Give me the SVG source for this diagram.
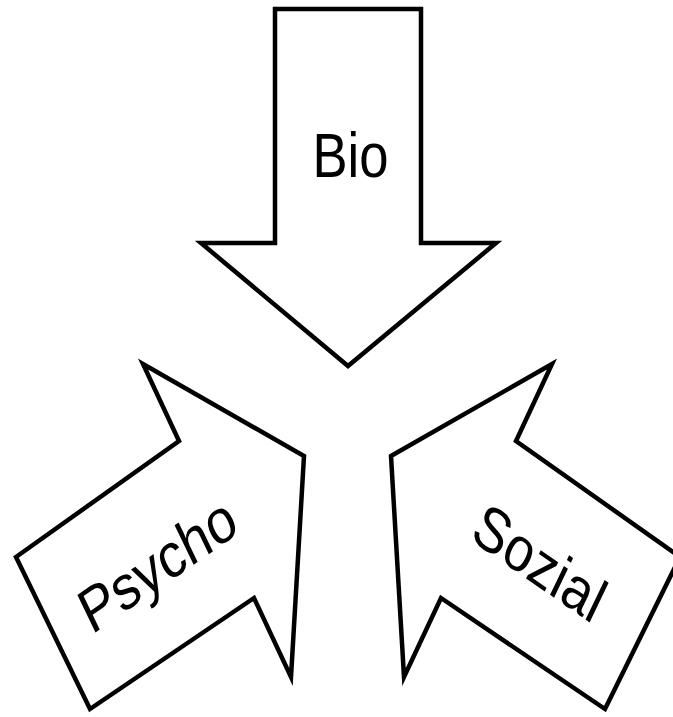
<svg xmlns="http://www.w3.org/2000/svg" width="673" height="717" viewBox="0 0 673 717">
<style>
.arrow{fill:#ffffff;stroke:#000000;stroke-width:4.5;stroke-linejoin:miter;stroke-miterlimit:10}
.lbl{font-family:"Liberation Sans",Arial,sans-serif;font-size:63px;fill:#000000;text-anchor:middle}
</style>
<rect width="673" height="717" fill="#ffffff"/>
<g id="bio">
<polygon class="arrow" points="275,9 421,9 421,243 496,243 348,366 201,243 275,243"/>
<text class="lbl" transform="translate(350.5,154.5) scale(0.835,1)" y="22.5">Bio</text>
</g>
<g id="psycho">
<polygon class="arrow" points="16,557 179,441 143,364 304,456 291,677 254,598 90,709"/>
<text class="lbl" transform="translate(157,564) scale(0.835,1) rotate(-30)" y="22.5">Psycho</text>
</g>
<g id="sozial">
<polygon class="arrow" points="391,456 552,364 516,441 680,557 605,709 441,598 404,677"/>
<text class="lbl" transform="translate(540,562) scale(0.835,1) rotate(30)" y="22.5">Sozial</text>
</g>
</svg>
